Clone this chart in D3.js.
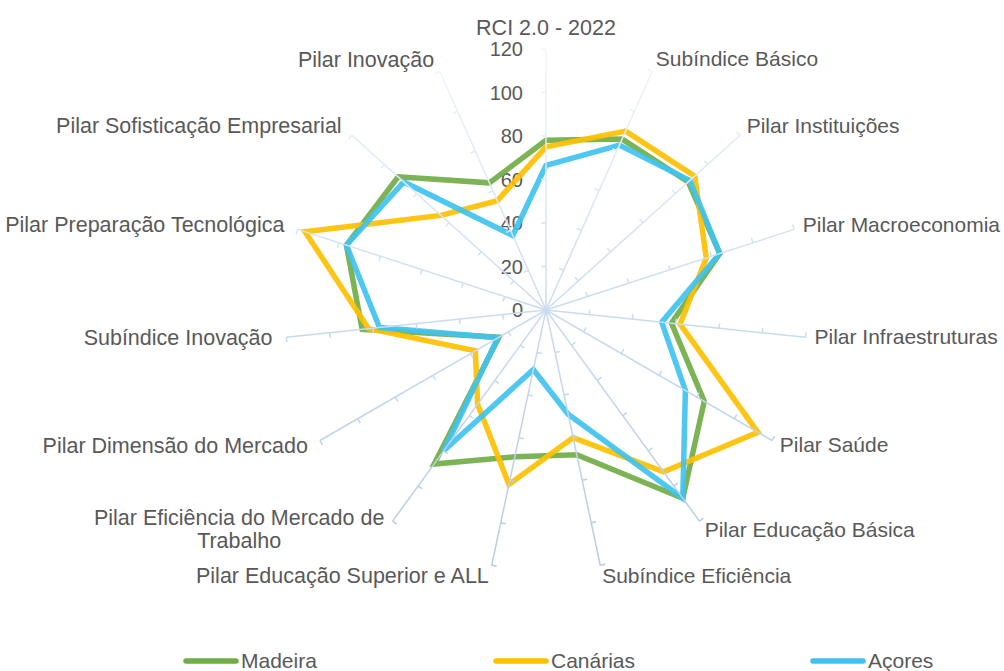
<!DOCTYPE html>
<meta charset="utf-8">
<script src="https://d3js.org/d3.v7.min.js"></script>
<style>
  body { margin: 0; background: #fff; }
  text { font-family: "Liberation Sans", Arial, sans-serif; fill: #595959; }
</style>
<body>
<div id="chart"></div>
<script>
  // categories, clockwise from the top
  const categories = [
    "RCI 2.0 - 2022",
    "Subíndice Básico",
    "Pilar Instituições",
    "Pilar Macroeconomia",
    "Pilar Infraestruturas",
    "Pilar Saúde",
    "Pilar Educação Básica",
    "Subíndice Eficiência",
    "Pilar Educação Superior e ALL",
    "Pilar Eficiência do Mercado de|Trabalho",
    "Pilar Dimensão do Mercado",
    "Subíndice Inovação",
    "Pilar Preparação Tecnológica",
    "Pilar Sofisticação Empresarial",
    "Pilar Inovação"
  ];

  const seriesNames = ["Madeira", "Canárias", "Açores"];
  const madeira  = [78, 86, 88, 84, 58, 84, 107, 68, 69, 87.5, 25, 85, 96.5, 91.5, 64];
  const canarias = [75, 90, 92, 77.5, 62, 112.5, 92, 60, 82, 53.5, 37.5, 82, 116.5, 65, 55];
  const acores   = [66.5, 83, 89, 84, 53.5, 74, 107, 49, 28, 80, 25.5, 77, 96.5, 88, 37.5];
  const tickValues = [0, 20, 40, 60, 80, 100, 120];

  const width = 1004, height = 671;
  const cx = 546, cy = 310;
  const colors = ["#70ad47", "#ffc000", "#3fc2f0"];

  const svg = d3.select("#chart").append("svg")
    .attr("width", width)
    .attr("height", height);

  // axis lines fade out toward the top
  const grad = svg.append("defs").append("linearGradient")
    .attr("id", "axisGrad")
    .attr("gradientUnits", "userSpaceOnUse")
    .attr("x1", 0).attr("y1", 45).attr("x2", 0).attr("y2", 575);
  grad.append("stop").attr("offset", 0).attr("stop-color", "#f1f6fc");
  grad.append("stop").attr("offset", 0.5).attr("stop-color", "#c9dcf0");
  grad.append("stop").attr("offset", 1).attr("stop-color", "#b3cbe7");

  const r = d3.scaleLinear().domain([0, 120]).range([0, 261]);
  const angle = d3.scaleLinear().domain([0, categories.length]).range([0, 2 * Math.PI]);

  const g = svg.append("g").attr("transform", `translate(${cx},${cy})`);
  const R = r(120);

  // axes and their tick marks, drawn in page coordinates so the gradient lines up
  const axes = svg.append("g").attr("class", "axes");
  categories.forEach((c, i) => {
    const a = angle(i);
    const dx = Math.sin(a), dy = -Math.cos(a);
    axes.append("line")
      .attr("x1", cx).attr("y1", cy)
      .attr("x2", cx + R * dx).attr("y2", cy + R * dy)
      .attr("stroke", "url(#axisGrad)")
      .attr("stroke-width", 1.5);
    tickValues.slice(1).forEach(t => {
      const px = cx + r(t) * dx, py = cy + r(t) * dy;
      axes.append("line")
        .attr("x1", px).attr("y1", py)
        .attr("x2", px + 5 * dy).attr("y2", py - 5 * dx)
        .attr("stroke", "url(#axisGrad)")
        .attr("stroke-width", 1.5);
    });
  });

  // value labels on the vertical axis
  g.selectAll("text.tick")
    .data(tickValues)
    .enter().append("text")
    .attr("class", "tick")
    .attr("x", -23)
    .attr("y", d => -r(d))
    .attr("dy", "0.35em")
    .attr("text-anchor", "end")
    .style("font-size", "20px")
    .text(d => d);

  // category labels
  categories.forEach((c, i) => {
    const a = angle(i);
    const s = Math.sin(a), co = Math.cos(a);
    const ex = R * s, ey = -R * co;
    const lines = c.split("|");
    let x, y, anchor;
    if (Math.abs(s) < 0.05) {
      x = ex; y = ey - 22; anchor = "middle";
    } else {
      x = ex + (s > 0 ? 9 : 14) * s; y = ey - 12 * co - 1.5;
      anchor = s > 0 ? "start" : "end";
    }
    const lh = 23;
    const t = g.append("text")
      .style("font-size", s > 0.05 ? "21px" : "21.5px")
      .attr("text-anchor", anchor);
    lines.forEach((ln, k) => {
      t.append("tspan")
        .attr("x", x)
        .attr("y", y + (k - (lines.length - 1) / 2) * lh)
        .attr("dy", "0.35em")
        .text(ln);
    });
    if (lines.length > 1) {
      // centre the wrapped lines inside their block
      const spans = t.selectAll("tspan").nodes();
      const w = d3.max(spans, n => n.getComputedTextLength());
      const mid = anchor === "end" ? x - w / 2 : x + w / 2;
      t.attr("text-anchor", "middle");
      t.selectAll("tspan").attr("x", mid);
    }
  });

  // series
  const radial = d3.lineRadial()
    .angle((d, i) => angle(i))
    .radius(d => r(d))
    .curve(d3.curveLinearClosed);

  [madeira, canarias, acores].forEach((vals, k) => {
    g.append("path")
      .attr("d", radial(vals))
      .attr("fill", "none")
      .attr("stroke", colors[k])
      .attr("stroke-width", 5.5)
      .attr("stroke-opacity", 0.92)
      .attr("stroke-linejoin", "miter");
  });

  // legend
  const legendX = [183, 493, 810];
  const legend = svg.append("g");
  seriesNames.forEach((n, k) => {
    legend.append("line")
      .attr("x1", legendX[k] + 3).attr("x2", legendX[k] + 53)
      .attr("y1", 661).attr("y2", 661)
      .attr("stroke", colors[k])
      .attr("stroke-width", 5.5)
      .attr("stroke-linecap", "round");
    legend.append("text")
      .attr("x", legendX[k] + 58)
      .attr("y", 661)
      .attr("dy", "0.35em")
      .style("font-size", "21px")
      .text(n);
  });
</script>
</body>
